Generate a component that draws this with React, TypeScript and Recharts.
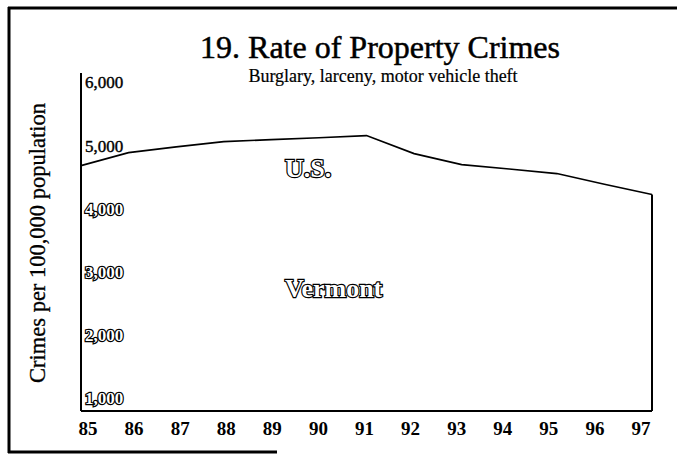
import React from 'react';
import { LineChart, Line, XAxis, YAxis, ReferenceLine } from 'recharts';

const years = [85, 86, 87, 88, 89, 90, 91, 92, 93, 94, 95, 96, 97];
const usRate = [4684, 4890, 4980, 5064, 5095, 5125, 5159, 4874, 4700, 4630, 4558, 4390, 4226];
const yTicks = [1000, 2000, 3000, 4000, 5000, 6000];
const outlinedTicks = [1000, 2000, 3000, 4000];

const data = years.map((year, i) => ({ year, us: usRate[i] }));

const SERIF = '"Liberation Serif", "DejaVu Serif", serif';

// white letters with a black rim, like the scanned labels
const hollow = { fill: '#fff', stroke: '#000', strokeWidth: 2.4, paintOrder: 'stroke' as const };

const YTick = (props: any) => {
  const { x, y, payload } = props;
  const isHollow = outlinedTicks.includes(payload.value);
  return (
    <text
      x={x + 4}
      y={y}
      dy="0.35em"
      textAnchor="start"
      fontFamily={SERIF}
      fontSize={17}
      fontWeight={isHollow ? 'bold' : 'normal'}
      {...(isHollow ? hollow : { fill: '#000', stroke: '#000', strokeWidth: 0.4 })}
    >
      {payload.value.toLocaleString('en-US')}
    </text>
  );
};

const XTick = (props: any) => {
  const { x, y, payload } = props;
  return (
    <text x={x} y={y + 23} textAnchor="middle" fontFamily={SERIF} fontSize={19} fontWeight="bold" fill="#000">
      {payload.value}
    </text>
  );
};

export default function App() {
  const last = usRate[usRate.length - 1];
  return (
    <div style={{ position: 'absolute', left: 0, top: 0, width: 677, height: 454, background: '#fff' }}>
      <LineChart width={677} height={454} data={data} margin={{ top: 73, right: 25, bottom: 2, left: 41 }}>
        <XAxis
          xAxisId="d"
          dataKey="year"
          type="number"
          domain={[85, 97]}
          height={1}
          tick={false}
          tickLine={false}
          axisLine={{ stroke: '#000', strokeWidth: 2 }}
        />
        <XAxis
          xAxisId="l"
          dataKey="year"
          type="number"
          domain={[85, 97]}
          ticks={years}
          padding={{ left: 7, right: 11 }}
          height={40}
          axisLine={false}
          tickLine={false}
          tickSize={0}
          tickMargin={0}
          tick={<XTick />}
        />
        <YAxis
          type="number"
          domain={[800, 6150]}
          ticks={yTicks}
          width={40}
          axisLine={{ stroke: '#000', strokeWidth: 2 }}
          tickLine={false}
          tickSize={0}
          tickMargin={0}
          tick={<YTick />}
        />
        <ReferenceLine
          xAxisId="d"
          segment={[{ x: 97, y: 800 }, { x: 97, y: last }]}
          stroke="#000"
          strokeWidth={2}
          ifOverflow="visible"
        />
        <Line
          xAxisId="d"
          dataKey="us"
          stroke="#000"
          strokeWidth={1.6}
          dot={false}
          isAnimationActive={false}
        />
        <Line
          xAxisId="l"
          dataKey="us"
          stroke="none"
          dot={false}
          activeDot={false}
          legendType="none"
          isAnimationActive={false}
        />
      </LineChart>
      <svg width={677} height={454} style={{ position: 'absolute', left: 0, top: 0, pointerEvents: 'none' }}>
        <line x1={9} y1={7} x2={9} y2={453} stroke="#000" strokeWidth={3} />
        <line x1={8} y1={8} x2={677} y2={8} stroke="#000" strokeWidth={3} />
        <line x1={8} y1={452} x2={277} y2={452} stroke="#000" strokeWidth={3} />
        <text x={380} y={58} textAnchor="middle" fontFamily={SERIF} fontSize={32} fill="#000" stroke="#000" strokeWidth={0.5}>
          19. Rate of Property Crimes
        </text>
        <text x={383} y={82} textAnchor="middle" fontFamily={SERIF} fontSize={18} fill="#000" stroke="#000" strokeWidth={0.2}>
          Burglary, larceny, motor vehicle theft
        </text>
        <text
          x={37}
          y={243}
          transform="rotate(-90 37 243)"
          textAnchor="middle"
          dy="0.35em"
          fontFamily={SERIF}
          fontSize={22.5}
          fill="#000"
          stroke="#000"
          strokeWidth={0.3}
        >
          Crimes per 100,000 population
        </text>
        <text x={285} y={168} dy="0.35em" fontFamily={SERIF} fontSize={26} fontWeight="bold" {...hollow}>
          U.S.
        </text>
        <text x={285} y={288} dy="0.35em" fontFamily={SERIF} fontSize={26} fontWeight="bold" {...hollow}>
          Vermont
        </text>
      </svg>
    </div>
  );
}
